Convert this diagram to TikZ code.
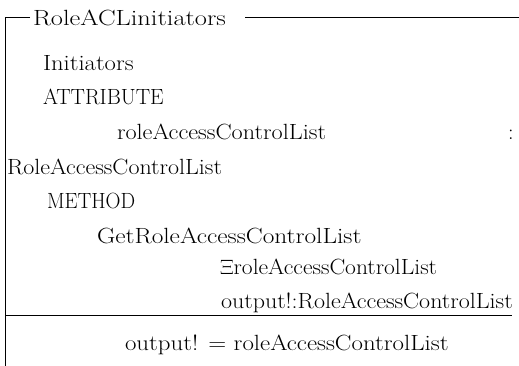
\documentclass[tikz,border=0pt]{standalone}
\usepackage{fontspec}
\usepackage{graphicx}
\newcommand\widen[2]{\scalebox{#1}[1]{#2}}
\begin{document}
\begin{tikzpicture}[x=1pt,y=-1pt,
  txt/.style={anchor=base west,inner sep=0pt,outer sep=0pt,font=\fontsize{22}{26}\selectfont},
  rule/.style={line width=0.9pt,black}]
\useasboundingbox (0,0) rectangle (519,366);
% frame coordinates
\coordinate (tl) at (5,17);
\coordinate (tlend) at (30,17);
\coordinate (trs) at (245,17);
\coordinate (tre) at (519,17);
\coordinate (bl) at (5,366);
\coordinate (sepl) at (5,315);
\coordinate (sepr) at (512,315);
% texts
\node[txt] (title) at (33,26) {\widen{1.2}{RoleACLinitiators}};
\node[txt] (init) at (43,71) {\widen{1.12}{Initiators}};
\node[txt] (attr) at (43,105) {\widen{0.98}{ATTRIBUTE}};
\node[txt] (ral) at (117,140) {\widen{1.10}{roleAccessControlList}};
\node[txt] (colon) at (508,140) {:};
\node[txt] (RAL) at (7,175) {\widen{1.09}{RoleAccessControlList}};
\node[txt] (meth) at (47,208) {\widen{0.94}{METHOD}};
\node[txt] (get) at (97,243) {\widen{1.15}{GetRoleAccessControlList}};
\node[txt] (xi) at (220,274) {\widen{1.07}{$\Xi$roleAccessControlList}};
\node[txt] (out) at (221,308) {\widen{1.09}{output!:RoleAccessControlList}};
\node[txt] (pred) at (125,350) {\widen{1.13}{output! = roleAccessControlList}};
% frame
\draw[rule] (tlend) -- (tl) -- (bl);
\draw[rule] (trs) -- (tre);
\draw[rule] (sepl) -- (sepr);
\end{tikzpicture}
\end{document}
